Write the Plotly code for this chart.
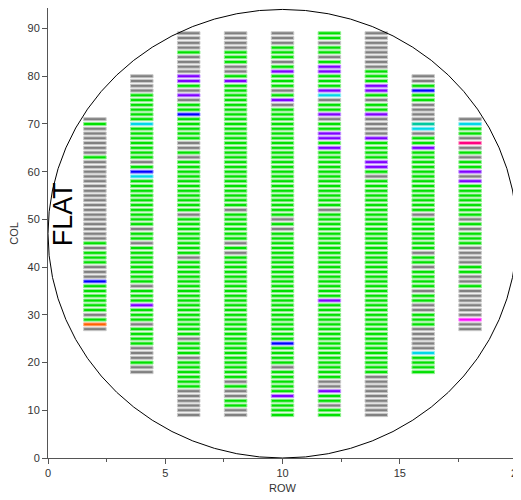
import plotly.graph_objects as go

# Wafer die map: each column (ROW position) has a top COL index and a string of die bins (top -> bottom)
# Bin codes: G=pass(green) Y=gray P=purple B=blue C=cyan T=teal O=orange M=magenta R=pink
row_positions = [2, 4, 6, 8, 10, 12, 14, 16, 18]
top_cols = [71, 80, 89, 89, 89, 89, 89, 80, 71]
bins = [
    "YGYYYYYYGYYYYYYYYYYYYYYYYYGYGGGYYYBGGGGGGYGOY",
    "YYYYGGGGGGCGGGGGGGYGBCGGGGGGGGGGYGGYGGGGGGGGYGGGPGGGYGGGGYYYGYY",
    "YYYYGYYYYPPGYPYGGBGGGGGYYGYGGGGGGGGGGGYGGGGGGGGYGGGGGGGGGGGGGGGGYGGGYGGGGGGYYYYYY",
    "YYYYGGGYYGPGGGGGGGGGGGGGGGGGGGGGGGGGGYGGGGGGYGYGGGGGGGGGGGGGGGGGGGGGGGGGGYGYYGGYY",
    "YYYGGGYGPGGGYGPYGGGGGGGGGGGGGGGGGGGGGGGYGYGGGGGGGGGGGGGGGGGGGGGGGBGGGGYGGGGGPGGGG",
    "GGYGGYGPPGGGPCYGGPYGGPPGPGGGGGGGGGGGGYGGGGGGGGGGGGGGGGGGPGGGGGGGGGGGGGGGGYYPGGYGG",
    "YYYYYYYYGGGPPGYGGPYYYYPGGGGPPGYGGGGGGGGGGGGGGGGGGGGGGGGGGGGGGGGGGGGGGGGGYYYYYYYYY",
    "YYGBGGYYYYTCYGGPGGGGGGGGGGGGGYGGGGGGGYGGYGGGGYGGYYGGGYYYYYCGGGG",
    "YCGGYRYGYGGPYPGGGGGGGYGYGGGYYYYGGYYGYYYYYYMYY",
]
bin_colors = {
    "G": ("#00e000", "#90f090"),
    "Y": ("#808080", "#c8c8c8"),
    "P": ("#8000ff", "#c090ff"),
    "B": ("#0000ff", "#9090ff"),
    "C": ("#00d8e8", "#90ecf4"),
    "T": ("#00c8a0", "#90e4d0"),
    "O": ("#ff6000", "#ffb080"),
    "M": ("#ff00ff", "#ff90ff"),
    "R": ("#ff0080", "#ff90c0"),
}

fig = go.Figure()
for code, (fill, edge) in bin_colors.items():
    ys, bases = [], []
    for xc, top, s in zip(row_positions, top_cols, bins):
        for i, ch in enumerate(s):
            if ch == code:
                ys.append(top - i)
                bases.append(xc - 0.48)
    if not ys:
        continue
    fig.add_trace(go.Bar(
        orientation="h", y=ys, x=[0.96] * len(ys), base=bases, width=0.64,
        marker=dict(color=fill, line=dict(color=edge, width=1)),
        hoverinfo="skip", showlegend=False,
    ))

fig.add_shape(type="circle", xref="x", yref="y", x0=0, x1=20, y0=0, y1=94,
              line=dict(color="black", width=1), layer="above")

fig.add_annotation(x=0.62, y=51, xref="x", yref="y", text="FLAT", showarrow=False,
                   textangle=-90, font=dict(family="Liberation Sans, Arial", size=27, color="black"))

axis_font = dict(family="Liberation Sans, Arial", size=11, color="#333333")
fig.add_annotation(x=0.5, y=-0.067, xref="paper", yref="paper", text="ROW", showarrow=False,
                   xanchor="center", yanchor="middle", font=axis_font)
fig.add_annotation(x=-0.073, y=0.5, xref="paper", yref="paper", text="COL", showarrow=False,
                   textangle=-90, xanchor="center", yanchor="middle", font=axis_font)

fig.update_layout(
    width=521, height=500,
    margin=dict(l=40, r=12, t=0, b=50, autoexpand=False),
    paper_bgcolor="white", plot_bgcolor="white",
    barmode="overlay",
    font=axis_font,
    xaxis=dict(range=[0, 20], tickvals=[0, 5, 10, 15, 20], ticks="outside", ticklen=5,
               minor=dict(tickvals=[2.5, 7.5, 12.5, 17.5], ticks="outside", ticklen=3, tickcolor="#555555"),
               showgrid=False, zeroline=False, showline=True, linecolor="#555555", linewidth=1,
               mirror=True, tickcolor="#555555", automargin=False),
    yaxis=dict(range=[0, 94.3], tickvals=list(range(0, 91, 10)), ticks="outside", ticklen=5,
               showgrid=False, zeroline=False, showline=True, linecolor="#555555", linewidth=1,
               mirror=True, tickcolor="#555555", automargin=False),
)

fig.write_html("out.html")
